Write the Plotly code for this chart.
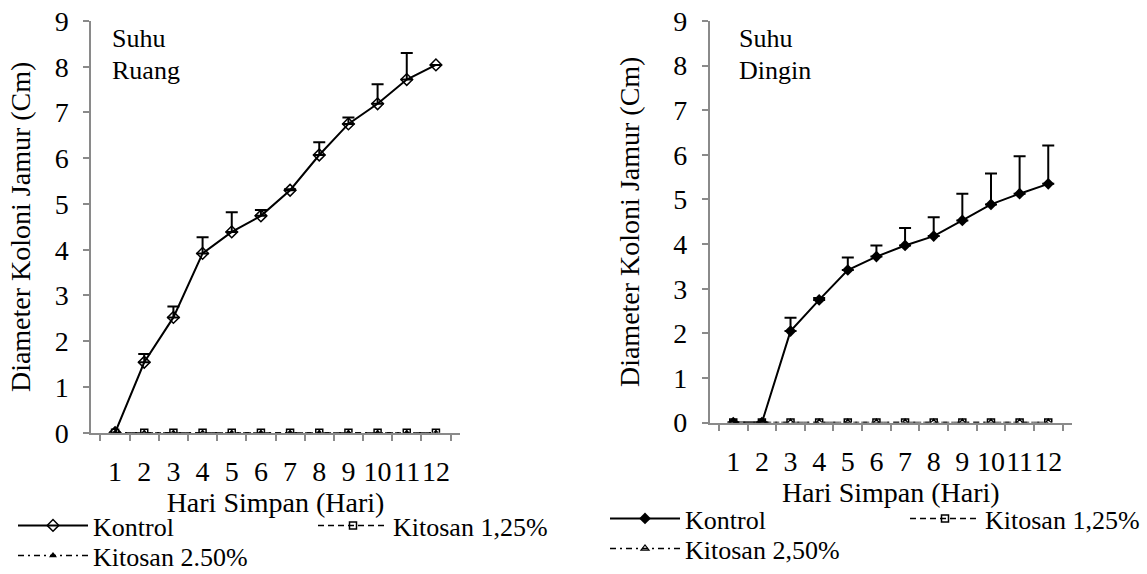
import plotly.graph_objects as go

W, H = 1147, 574

days = [str(i) for i in range(1, 13)]

# Suhu Ruang (left panel)
ruang_kontrol = [0, 1.54, 2.52, 3.92, 4.39, 4.74, 5.30, 6.07, 6.75, 7.19, 7.72, 8.04]
ruang_kontrol_err = [0, 0.18, 0.24, 0.35, 0.43, 0.13, 0.02, 0.28, 0.14, 0.43, 0.58, 0]
ruang_kit125 = [0] * 12
ruang_kit250 = [0] * 12

# Suhu Dingin (right panel)
dingin_kontrol = [0, 0, 2.05, 2.75, 3.42, 3.72, 3.97, 4.18, 4.53, 4.89, 5.13, 5.35]
dingin_kontrol_err = [0, 0, 0.30, 0.04, 0.28, 0.25, 0.39, 0.42, 0.60, 0.69, 0.84, 0.86]
dingin_kit125 = [0] * 12
dingin_kit250 = [0] * 12

y_ticks = list(range(0, 10))

FONT = '"Liberation Serif", "Times New Roman", Times, serif'
FS_AX = 28
FS_LEG = 26
AX = "#8a8a8a"


def px(x):
    return x / W


def py(y):
    return 1 - y / H


def err(arr):
    return dict(type="data", array=arr, arrayminus=[0] * len(arr), symmetric=False,
                color="black", thickness=2, width=6)


fig = go.Figure()

# Left panel
fig.add_trace(go.Scatter(x=days, y=ruang_kontrol, name="Kontrol", mode="lines+markers",
                         line=dict(color="black", width=2),
                         marker=dict(symbol="diamond-open", size=9, color="black", line=dict(width=1.5)),
                         error_y=err(ruang_kontrol_err), xaxis="x", yaxis="y", legend="legend"))
fig.add_trace(go.Scatter(x=days, y=ruang_kit125, name="Kitosan 1,25%", mode="lines+markers",
                         line=dict(color="black", width=1.5, dash="6px,4px"),
                         marker=dict(symbol="square-open", size=7, color="black", line=dict(width=1.5)),
                         xaxis="x", yaxis="y", legend="legend"))
fig.add_trace(go.Scatter(x=days, y=ruang_kit250, name="Kitosan 2.50%", mode="lines+markers",
                         line=dict(color="black", width=1.5, dash="6px,4px,2px,4px"),
                         marker=dict(symbol="triangle-up", size=7, color="black"),
                         xaxis="x", yaxis="y", legend="legend2"))

# Right panel
fig.add_trace(go.Scatter(x=days, y=dingin_kontrol, name="Kontrol", mode="lines+markers",
                         line=dict(color="black", width=2),
                         marker=dict(symbol="diamond", size=9, color="black"),
                         error_y=err(dingin_kontrol_err), xaxis="x2", yaxis="y2", legend="legend3"))
fig.add_trace(go.Scatter(x=days, y=dingin_kit125, name="Kitosan 1,25%", mode="lines+markers",
                         line=dict(color="black", width=1.5, dash="6px,4px"),
                         marker=dict(symbol="square-open", size=7, color="black", line=dict(width=1.5)),
                         xaxis="x2", yaxis="y2", legend="legend3"))
fig.add_trace(go.Scatter(x=days, y=dingin_kit250, name="Kitosan 2,50%", mode="lines+markers",
                         line=dict(color="black", width=1.5, dash="6px,4px,2px,4px"),
                         marker=dict(symbol="triangle-up-open", size=7, color="black", line=dict(width=1.2)),
                         xaxis="x2", yaxis="y2", legend="legend4"))

axfont = dict(family=FONT, size=FS_AX, color="black")
xcommon = dict(type="category", tickson="boundaries", ticks="outside", ticklen=7,
               tickmode="array", tickvals=days, ticktext=days, tickangle=0,
               tickcolor=AX, tickwidth=1.5, showline=True, linecolor=AX, linewidth=1.5,
               showgrid=False, zeroline=False, tickfont=axfont,
               ticklabelstandoff=13,
               title=dict(text="Hari Simpan (Hari)", font=axfont, standoff=0))
ycommon = dict(range=[0, 9], tickmode="array", tickvals=y_ticks, ticks="outside", ticklen=6,
               tickcolor=AX, tickwidth=1.5, showline=True, linecolor=AX, linewidth=1.5,
               showgrid=False, zeroline=False, tickfont=axfont,
               ticklabelstandoff=9,
               title=dict(text="Diameter Koloni Jamur (Cm)", font=axfont))

fig.update_layout(
    width=W, height=H,
    margin=dict(l=0, r=0, t=0, b=0, autoexpand=False),
    paper_bgcolor="white", plot_bgcolor="white",
    font=dict(family=FONT, size=FS_LEG, color="black"),
    xaxis=dict(xcommon, domain=[px(91), px(460)], anchor="y"),
    yaxis=dict(ycommon, domain=[py(432.7), py(21)], anchor="x"),
    xaxis2=dict(xcommon, domain=[px(709.5), px(1072)], anchor="y2"),
    yaxis2=dict(ycommon, domain=[py(422.6), py(21)], anchor="x2"),
)
fig.layout.yaxis.title.standoff = 16
fig.layout.yaxis2.title.standoff = 25

leg = dict(orientation="h", xanchor="left", yanchor="top", bgcolor="rgba(0,0,0,0)",
           itemwidth=70, entrywidthmode="pixels", entrywidth=215,
           font=dict(family=FONT, size=FS_LEG, color="black"), itemclick=False)
fig.update_layout(
    legend=dict(leg, x=px(13), y=py(502)),
    legend2=dict(leg, x=px(13), y=py(532)),
    legend3=dict(leg, x=px(605), y=py(495)),
    legend4=dict(leg, x=px(605), y=py(525)),
)

annfont = dict(family=FONT, size=FS_LEG, color="black")
for text, xx, yy in [("Suhu", 110, 38), ("Ruang", 110, 70), ("Suhu", 737, 38), ("Dingin", 737, 70)]:
    fig.add_annotation(text=text, x=px(xx), y=py(yy), xref="paper", yref="paper",
                       xanchor="left", yanchor="middle", align="left", showarrow=False,
                       font=annfont)

fig.write_html("out.html", config={"displayModeBar": False},
               post_script="document.body.style.margin='0';")
